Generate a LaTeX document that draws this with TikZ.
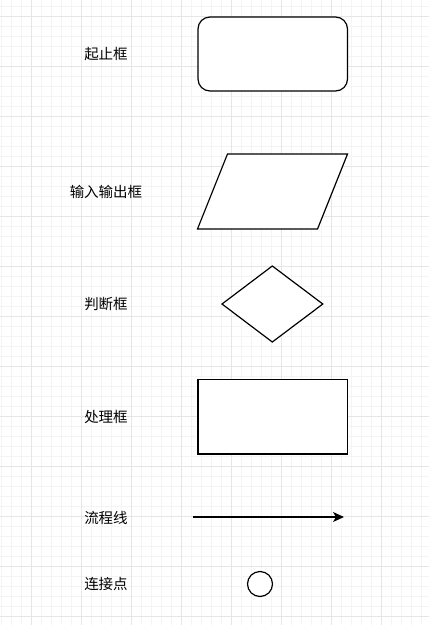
\documentclass[tikz,border=0pt]{standalone}
\usepackage{fontspec}
\newfontfamily\cjk{Noto Sans CJK SC}
\usetikzlibrary{arrows.meta}
\definecolor{gridminor}{HTML}{F4F4F4}
\definecolor{gridmajor}{HTML}{E6E6E6}
\tikzset{
  lbl/.style={font=\cjk\fontsize{14.5}{16}\selectfont, inner sep=0pt, anchor=center},
  shapeline/.style={draw=black, line width=1.2pt, line join=miter},
  flowline/.style={draw=black, line width=1.3pt, -{Stealth[length=11pt,width=10pt,inset=3pt]}},
}
\begin{document}
\begin{tikzpicture}[x=1pt,y=-1pt]
\useasboundingbox (0,0) rectangle (429,625);
\fill[white] (0,0) rectangle (429,625);
% grid
\foreach \x in {1.5,11.5,...,429} \draw[gridminor, line width=1pt] (\x,0) -- (\x,625);
\foreach \y in {6.5,16.5,...,625} \draw[gridminor, line width=1pt] (0,\y) -- (429,\y);
\foreach \x in {31.5,81.5,...,429} \draw[gridmajor, line width=1pt] (\x,0) -- (\x,625);
\foreach \y in {16.5,66.5,...,625} \draw[gridmajor, line width=1pt] (0,\y) -- (429,\y);

% labels
\node[lbl] (t1) at (106,54) {起止框};
\node[lbl] (t2) at (106,192) {输入输出框};
\node[lbl] (t3) at (106,304) {判断框};
\node[lbl] (t4) at (106,417) {处理框};
\node[lbl] (t5) at (106,518) {流程线};
\node[lbl] (t6) at (106,584) {连接点};

% terminal
\draw[shapeline, fill=white, rounded corners=12pt] (198,17) rectangle (347.5,91);
% input/output parallelogram
\draw[shapeline, fill=white] (227.5,154) -- (347.5,154) -- (317.5,229) -- (197.5,229) -- cycle;
% decision
\draw[shapeline, fill=white] (272.3,266) -- (322.8,304) -- (272.3,342) -- (222,304) -- cycle;
% process
\draw[shapeline, fill=white] (198,379.5) rectangle (347.5,454);
% flow line
\coordinate (a1) at (193,517);
\coordinate (a2) at (344,517);
\draw[flowline] (a1) -- (a2);
% connector
\node[shapeline, fill=white, circle, minimum size=25pt, inner sep=0pt] (c1) at (260,584) {};
\end{tikzpicture}
\end{document}
